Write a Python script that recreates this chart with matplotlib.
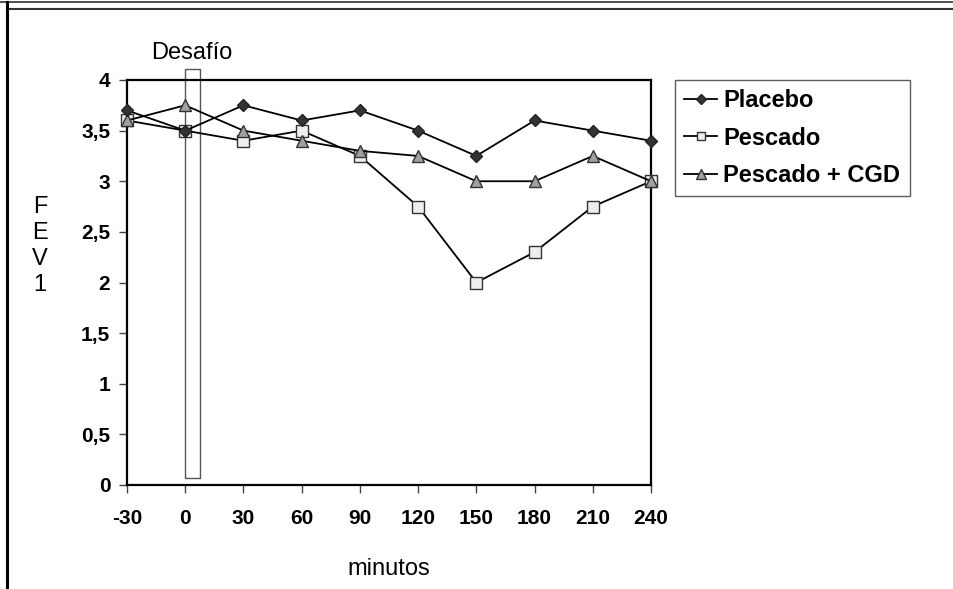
import numpy as np
import matplotlib.pyplot as plt
from matplotlib.patches import Rectangle
from matplotlib.lines import Line2D

plt.rcParams['font.family'] = ['Liberation Sans', 'DejaVu Sans']

minutos = [-30, 0, 30, 60, 90, 120, 150, 180, 210, 240]
placebo = [3.7, 3.5, 3.75, 3.6, 3.7, 3.5, 3.25, 3.6, 3.5, 3.4]
pescado = [3.6, 3.5, 3.4, 3.5, 3.25, 2.75, 2.0, 2.3, 2.75, 3.0]
pescado_cgd = [3.6, 3.75, 3.5, 3.4, 3.3, 3.25, 3.0, 3.0, 3.25, 3.0]
yticks = [0, 0.5, 1, 1.5, 2, 2.5, 3, 3.5, 4]
ytick_labels = ['0', '0,5', '1', '1,5', '2', '2,5', '3', '3,5', '4']

fig = plt.figure(figsize=(9.54, 5.89), dpi=100)
ax = fig.add_axes([127/954, 1-485/589, 524/954, 405/589])

ax.plot(minutos, placebo, color='black', lw=1.3, marker='D', ms=6,
        mfc='#333333', mec='#222222', label='Placebo', clip_on=False, zorder=4)
ax.plot(minutos, pescado, color='black', lw=1.3, marker='s', ms=8,
        mfc='#eeeeee', mec='#333333', mew=1, label='Pescado', clip_on=False, zorder=3)
ax.plot(minutos, pescado_cgd, color='black', lw=1.3, marker='^', ms=9,
        mfc='#a0a0a0', mec='#333333', mew=1, label='Pescado + CGD', clip_on=False, zorder=3)

# caja del desafio
ax.add_patch(Rectangle((0, 0.07), 7.5, 4.04, fill=False, ec='#555555', lw=1,
                       clip_on=False, zorder=2))
ax.text(3.5, 4.27, 'Desafío', ha='center', va='center', fontsize=17)

ax.set_xlim(-30, 240)
ax.set_ylim(0, 4)
ax.set_xticks(minutos)
ax.set_xticklabels([str(m) for m in minutos], fontsize=15, fontweight='bold')
ax.set_yticks(yticks)
ax.set_yticklabels(ytick_labels, fontsize=15, fontweight='bold')
ax.tick_params(direction='out', length=6, width=1, color='#444444', pad=6)
ax.tick_params(axis='x', pad=11)
for s in ax.spines.values():
    s.set_linewidth(1.6)

ax.set_xlabel('minutos', fontsize=17, labelpad=22)
fig.text(40/954, 1-246/589, 'F\nE\nV\n1', ha='center', va='center',
         fontsize=17, linespacing=1.25)

leg = ax.legend(loc='upper left', bbox_to_anchor=(675/954, 1-80/589),
                bbox_transform=fig.transFigure, frameon=True, fancybox=False,
                prop={'weight': 'bold', 'size': 17}, handlelength=1.4,
                handletextpad=0.25, borderpad=0.4, labelspacing=0.6,
                borderaxespad=0, markerscale=0.8)
leg.get_frame().set_edgecolor('#333333')
leg.get_frame().set_linewidth(1)

# bordes de la hoja
fig.add_artist(Line2D([0, 1], [1-1.5/589, 1-1.5/589], color='#333333', lw=1.2))
fig.add_artist(Line2D([7/954, 1], [1-9/589, 1-9/589], color='#333333', lw=1.5))
fig.add_artist(Line2D([7/954, 7/954], [0, 1-1.5/589], color='black', lw=2.2))

fig.savefig('out.png', dpi=100)
